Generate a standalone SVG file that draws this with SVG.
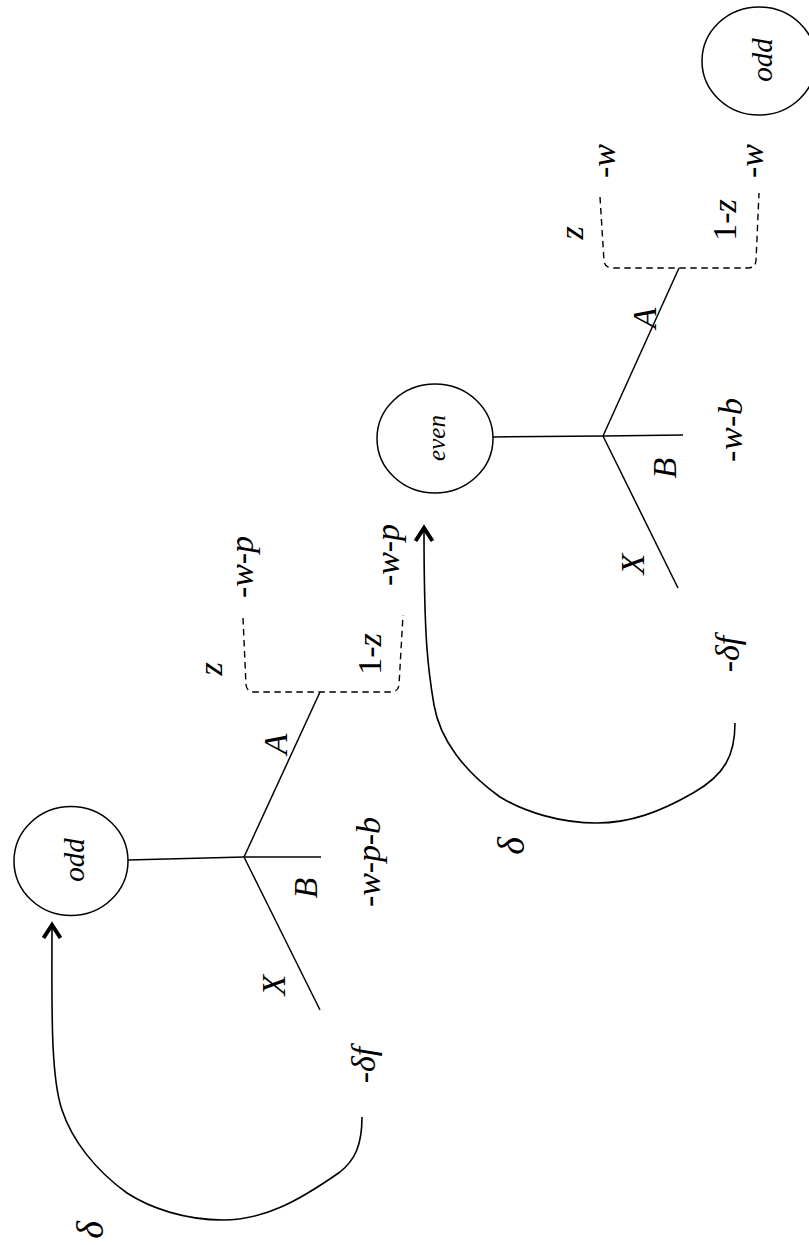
<svg xmlns="http://www.w3.org/2000/svg" width="809" height="1245" viewBox="0 0 809 1245">
<style>
.st{fill:#fff;stroke:#000;stroke-width:1.5}
.ln{fill:none;stroke:#000;stroke-width:1.5}
.ds{fill:none;stroke:#000;stroke-width:1.4;stroke-dasharray:6.5,4.5}
.cv{fill:none;stroke:#000;stroke-width:1.6}
text{font-family:"Liberation Serif","Times New Roman",serif;font-style:italic;fill:#000;text-anchor:middle}
.lb{font-size:34px}
.dl{font-size:38px}
.nd{font-size:29px}
.ev{font-size:25px}
.up{font-style:normal}
</style>
<defs>
<marker id="arr" markerUnits="userSpaceOnUse" viewBox="-16 -12 20 24" refX="0" refY="0" markerWidth="20" markerHeight="24" orient="auto">
<path d="M-13,-8.5 L0,0 L-13,8.5" fill="none" stroke="#000" stroke-width="4" stroke-linejoin="miter"/>
</marker>
</defs>
<rect width="809" height="1245" fill="#fff"/>

<g id="node-odd1">
<ellipse class="st" cx="71" cy="861" rx="57" ry="54.5"/>
<text class="nd" transform="translate(84,860) rotate(-90)">odd</text>
</g>
<g id="node-even">
<ellipse class="st" cx="435" cy="438.5" rx="58" ry="54.5"/>
<text class="ev" transform="translate(445,438) rotate(-90)">even</text>
</g>
<g id="node-odd2">
<ellipse class="st" cx="759" cy="61" rx="57" ry="54"/>
<text class="nd" transform="translate(772,60) rotate(-90)">odd</text>
</g>

<g id="connectors">
<line class="ln" x1="128" y1="860" x2="244" y2="857"/>
<line class="ln" x1="244" y1="857" x2="321" y2="857"/>
<line class="ln" x1="244" y1="857" x2="320" y2="692"/>
<line class="ln" x1="244" y1="857" x2="320" y2="1010"/>
<path class="ds" d="M243,618 L246,685 Q247,692 254,692 L391,692 Q398,692 399,685 L403,615"/>

<line class="ln" x1="493" y1="437" x2="603" y2="436"/>
<line class="ln" x1="603" y1="436" x2="683" y2="435"/>
<line class="ln" x1="603" y1="436" x2="679" y2="268"/>
<line class="ln" x1="603" y1="436" x2="678" y2="588"/>
<path class="ds" d="M600,197 L604,261 Q605,268 612,268 L748,268 Q755,268 756,261 L759,193"/>

<path class="cv" marker-end="url(#arr)" d="M362,1117 C362,1145 355,1160 340,1172 C300,1200 265,1220 223,1220 C185,1220 150,1208 127,1193 C95,1170 72,1140 62,1110 C50,1075 52,1000 52,925"/>
<path class="cv" marker-end="url(#arr)" d="M735,723 C735,755 725,775 693,793 C660,812 630,823 597,823 C560,823 525,812 500,797 C465,772 440,740 434,705 C428,670 424,640 424,528"/>
</g>

<g id="labels">
<text class="lb" transform="translate(287,744) rotate(-90)">A</text>
<text class="lb" transform="translate(317,888) rotate(-90)">B</text>
<text class="lb" transform="translate(285,985) rotate(-90)">X</text>
<text class="lb" transform="translate(380,862) rotate(-90)" textLength="90" lengthAdjust="spacing"><tspan class="up">-</tspan>w<tspan class="up">-</tspan>p<tspan class="up">-</tspan>b</text>
<text class="lb" transform="translate(375,1065) rotate(-90)"><tspan class="up">-</tspan>δf</text>
<text class="dl" transform="translate(103,1230) rotate(-90)">δ</text>
<text class="lb" transform="translate(222,669) rotate(-90)">z</text>
<text class="lb" transform="translate(253,567) rotate(-90)" textLength="62" lengthAdjust="spacing"><tspan class="up">-</tspan>w<tspan class="up">-</tspan>p</text>
<text class="lb" transform="translate(381,654) rotate(-90)"><tspan class="up">1-</tspan>z</text>
<text class="lb" transform="translate(399,555) rotate(-90)" textLength="62" lengthAdjust="spacing"><tspan class="up">-</tspan>w<tspan class="up">-</tspan>p</text>

<text class="lb" transform="translate(656,318) rotate(-90)">A</text>
<text class="lb" transform="translate(676,468) rotate(-90)">B</text>
<text class="lb" transform="translate(644,564) rotate(-90)">X</text>
<text class="lb" transform="translate(742,430) rotate(-90)" textLength="64" lengthAdjust="spacing"><tspan class="up">-</tspan>w<tspan class="up">-</tspan>b</text>
<text class="lb" transform="translate(739,654) rotate(-90)"><tspan class="up">-</tspan>δf</text>
<text class="dl" transform="translate(524,846) rotate(-90)">δ</text>
<text class="lb" transform="translate(583,233) rotate(-90)">z</text>
<text class="lb" transform="translate(615,161) rotate(-90)"><tspan class="up">-</tspan>w</text>
<text class="lb" transform="translate(736,220) rotate(-90)"><tspan class="up">1-</tspan>z</text>
<text class="lb" transform="translate(763,161) rotate(-90)"><tspan class="up">-</tspan>w</text>
</g>
</svg>
